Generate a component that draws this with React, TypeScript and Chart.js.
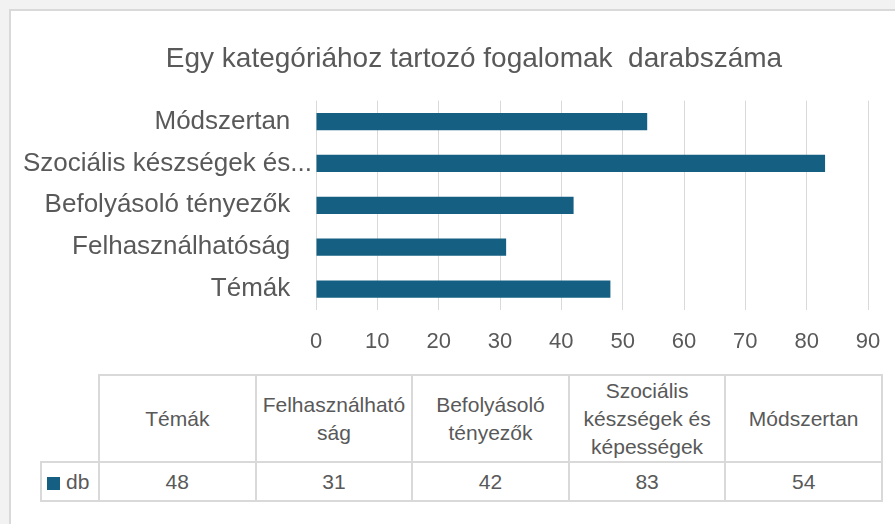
import React, { useEffect, useRef } from "react";
import { Chart, registerables } from "chart.js";

Chart.register(...registerables);

const TITLE = "Egy kategóriához tartozó fogalomak  darabszáma";
const categories = [
  "Témák",
  "Felhasználhatóság",
  "Befolyásoló tényezők",
  "Szociális készségek és képességek",
  "Módszertan",
];
const tableHeaders = [
  ["Témák"],
  ["Felhasználható", "ság"],
  ["Befolyásoló", "tényezők"],
  ["Szociális", "készségek és", "képességek"],
  ["Módszertan"],
];
const seriesName = "db";
const values = [48, 31, 42, 83, 54];
const xMin = 0;
const xMax = 90;
const xStep = 10;

const BAR_COLOR = "#156082";
const TEXT = "#595959";
const GRID = "#d9d9d9";
const FONT = "'Liberation Sans', Arial, sans-serif";

function yLabel(label: string): string {
  const max = 22;
  // truncated labels (with the ellipsis) reach further right, like in Excel
  return label.length > max ? label.slice(0, max) + "..." : label + "   ";
}

// centre the title over the whole chart box (which is wider than the plot)
const titleShift = {
  id: "titleShift",
  afterLayout(chart: any) {
    const t = chart.titleBlock;
    if (t) {
      t.left += 70;
    }
  },
};

export default function App() {
  const ref = useRef<HTMLCanvasElement | null>(null);

  useEffect(() => {
    if (!ref.current) return;
    const chart = new Chart(ref.current, {
      type: "bar",
      data: {
        labels: categories,
        datasets: [
          {
            label: seriesName,
            data: values,
            backgroundColor: BAR_COLOR,
            borderWidth: 0,
            barPercentage: 0.41,
            categoryPercentage: 1,
          },
        ],
      },
      plugins: [titleShift],
      options: {
        indexAxis: "y",
        animation: false,
        responsive: false,
        maintainAspectRatio: false,
        layout: { padding: { left: 0, right: 70, top: 0, bottom: 0 } },
        plugins: {
          legend: { display: false },
          tooltip: { enabled: false },
          title: {
            display: true,
            text: TITLE,
            color: TEXT,
            font: { family: FONT, size: 28, weight: "normal" },
            padding: { top: 32, bottom: 25 },
          },
        },
        scales: {
          x: {
            min: xMin,
            max: xMax,
            ticks: {
              stepSize: xStep,
              color: TEXT,
              font: { family: FONT, size: 22 },
              padding: 19,
            },
            grid: { color: GRID, lineWidth: 1, drawTicks: false },
            border: { display: false },
            afterFit: (s: any) => {
              s.height = 60;
            },
          },
          y: {
            reverse: true,
            ticks: {
              color: TEXT,
              font: { family: FONT, size: 26 },
              padding: 4,
              autoSkip: false,
              callback: function (this: any, v: any) {
                return yLabel(this.getLabelForValue(v));
              },
            },
            grid: { display: false, drawTicks: false },
            border: { display: false },
            afterFit: (s: any) => {
              s.width = 306;
            },
          },
        },
      },
    } as any);
    return () => chart.destroy();
  }, []);

  const cell: React.CSSProperties = {
    border: `2px solid ${GRID}`,
    padding: 0,
    textAlign: "center",
    color: TEXT,
    fontFamily: FONT,
    fontSize: 21,
    lineHeight: "28px",
  };

  return (
    <div
      style={{
        position: "fixed",
        left: 0,
        top: 0,
        width: 895,
        height: 524,
        background: "#f2f2f2",
        overflow: "hidden",
      }}
    >
      <div
        style={{
          position: "absolute",
          left: 9,
          top: 9,
          width: 900,
          height: 530,
          background: "#ffffff",
          borderLeft: `2px solid ${GRID}`,
          borderTop: `2px solid ${GRID}`,
        }}
      />
      <canvas
        ref={ref}
        width={928}
        height={360}
        style={{ position: "absolute", left: 10, top: 10, width: 928, height: 360 }}
      />
      <table
        style={{
          position: "absolute",
          left: 40,
          top: 374,
          width: 841,
          borderCollapse: "collapse",
          tableLayout: "fixed",
        }}
      >
        <colgroup>
          <col style={{ width: 58 }} />
          {categories.map((c) => (
            <col key={c} style={{ width: 156.6 }} />
          ))}
        </colgroup>
        <tbody>
          <tr style={{ height: 87 }}>
            <td style={{ ...cell, border: "none" }} />
            {tableHeaders.map((lines, i) => (
              <td key={i} style={cell}>
                {lines.map((l, j) => (
                  <React.Fragment key={j}>
                    {j > 0 && <br />}
                    {l}
                  </React.Fragment>
                ))}
              </td>
            ))}
          </tr>
          <tr style={{ height: 39 }}>
            <td style={{ ...cell, textAlign: "left", paddingLeft: 5, whiteSpace: "nowrap" }}>
              <span
                style={{
                  display: "inline-block",
                  width: 13,
                  height: 13,
                  background: BAR_COLOR,
                  marginRight: 6,
                  verticalAlign: "-1px",
                }}
              />
              {seriesName}
            </td>
            {values.map((v, i) => (
              <td key={i} style={cell}>
                {v}
              </td>
            ))}
          </tr>
        </tbody>
      </table>
    </div>
  );
}
